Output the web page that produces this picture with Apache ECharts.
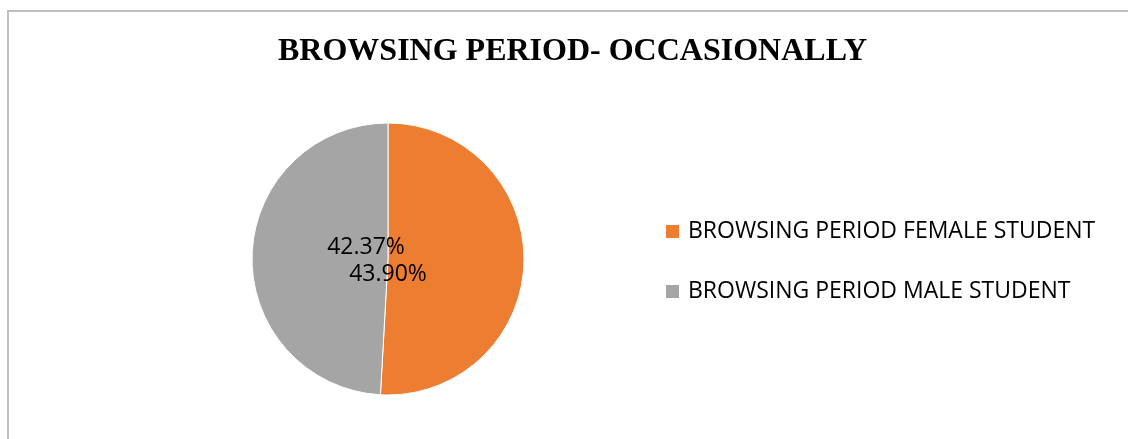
<!DOCTYPE html>
<html>
<head>
<meta charset="utf-8">
<title>Browsing period - occasionally</title>
<script src="https://cdn.jsdelivr.net/npm/echarts@6/dist/echarts.min.js"></script>
<style>
  html, body { margin: 0; padding: 0; background: #fff; }
  #chart { width: 1128px; height: 439px; }
</style>
</head>
<body>
<div id="chart"></div>
<script>
// data
const categories = ['BROWSING PERIOD FEMALE STUDENT', 'BROWSING PERIOD MALE STUDENT']
const values = [43.90, 42.37]
const colors = ['#ED7D31', '#A5A5A5']
const titleText = 'BROWSING PERIOD- OCCASIONALLY'

// label nudges from the pie centre, like the original
const labelOffsets = [[0, 15], [-22, -12]]

const chart = echarts.init(document.getElementById('chart'))

const pieData = categories.map((name, i) => ({
    name: name,
    value: values[i],
    itemStyle: { color: colors[i] }
}))

const option = {
    animation: false,
    title: {
        text: titleText,
        left: 273,
        top: 31,
        textStyle: {
            fontFamily: 'Liberation Serif',
            fontWeight: 'bold',
            fontSize: 32,
            color: '#000'
        }
    },
    legend: {
        orient: 'vertical',
        left: 664,
        top: 220,
        padding: 0,
        itemWidth: 15,
        itemHeight: 15,
        itemGap: 37,
        icon: 'rect',
        data: categories,
        textStyle: {
            fontFamily: 'Open Sans',
            fontSize: 23,
            color: '#000',
            padding: [0, 0, 0, 3]
        }
    },
    graphic: [{
        type: 'rect',
        shape: { x: 8, y: 11, width: 1300, height: 600 },
        style: { fill: 'none', stroke: '#BFBFBF', lineWidth: 2 },
        silent: true
    }],
    series: [{
        type: 'pie',
        center: [388, 259],
        radius: 136,
        startAngle: 90,
        clockwise: true,
        itemStyle: { borderColor: '#fff', borderWidth: 1 },
        label: {
            show: true,
            position: 'center',
            fontFamily: 'Open Sans',
            fontSize: 23,
            color: '#000',
            formatter: p => p.value.toFixed(2) + '%'
        },
        labelLine: { show: false },
        labelLayout: p => ({
            dx: labelOffsets[p.dataIndex][0],
            dy: labelOffsets[p.dataIndex][1]
        }),
        emphasis: { disabled: true },
        data: pieData
    }]
}

chart.setOption(option)
</script>
</body>
</html>
